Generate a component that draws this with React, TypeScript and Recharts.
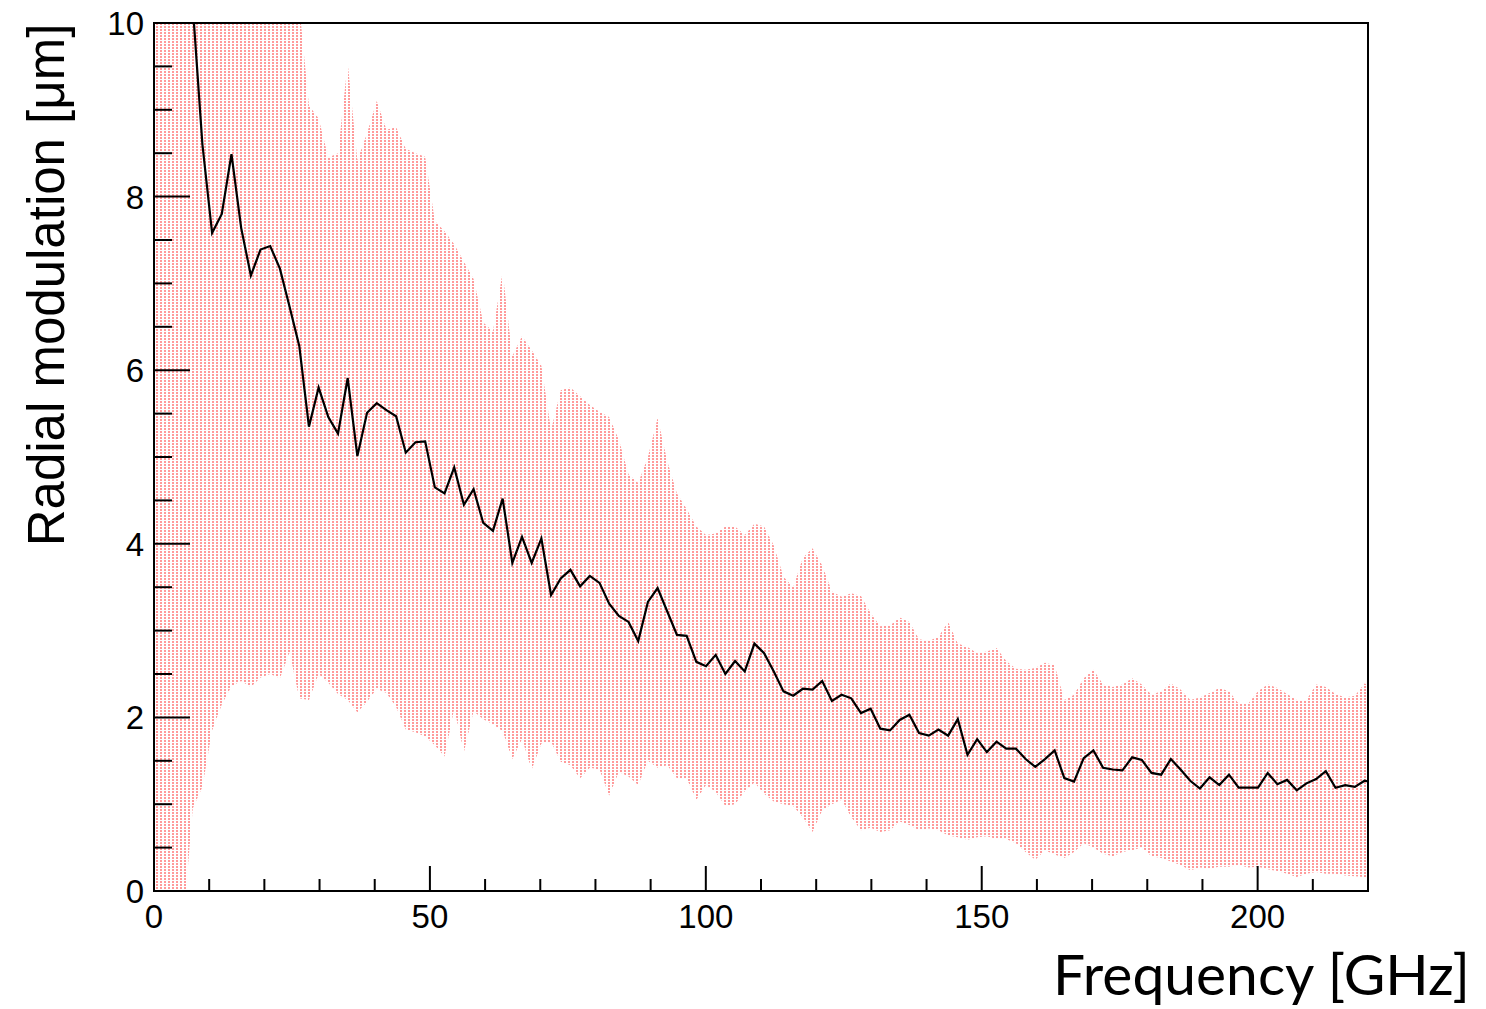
import React from "react";
import {
  ComposedChart,
  Area,
  Line,
  XAxis,
  YAxis,
  ReferenceArea,
} from "recharts";

// Bin spacing of the spectrum (GHz)
const BIN_GHZ = 1.755;

// Mean radial modulation per frequency bin (µm); first bins are off-scale (>10)
const meanValues: number[] = [
  14.5, 13.5, 12.5, 11.3, 10.2, 8.6, 7.58, 7.8, 8.49, 7.64,
  7.09, 7.39, 7.43, 7.17, 6.73, 6.28, 5.35, 5.8, 5.46, 5.27,
  5.91, 5.01, 5.51, 5.62, 5.54, 5.47, 5.05, 5.17, 5.18, 4.65,
  4.58, 4.88, 4.45, 4.63, 4.24, 4.15, 4.52, 3.78, 4.08, 3.78,
  4.06, 3.41, 3.6, 3.7, 3.51, 3.63, 3.55, 3.31, 3.17, 3.1,
  2.88, 3.33, 3.49, 3.22, 2.95, 2.94, 2.64, 2.59, 2.72, 2.5,
  2.65, 2.53, 2.85, 2.74, 2.53, 2.3, 2.25, 2.33, 2.32, 2.42,
  2.19, 2.26, 2.22, 2.05, 2.1, 1.87, 1.85, 1.97, 2.03, 1.82,
  1.79, 1.86, 1.79, 1.98, 1.57, 1.75, 1.6, 1.72, 1.64, 1.64,
  1.52, 1.43, 1.52, 1.62, 1.3, 1.26, 1.53, 1.62, 1.42, 1.4,
  1.39, 1.54, 1.51, 1.36, 1.34, 1.52, 1.4, 1.27, 1.18, 1.31,
  1.22, 1.34, 1.19, 1.19, 1.19, 1.36, 1.23, 1.28, 1.16, 1.24,
  1.29, 1.38, 1.19, 1.22, 1.2, 1.27, 1.25,
];

// Upper edge of the spread band (µm); early bins are off-scale (>10)
const upperValues: number[] = [
  10.8, 10.8, 10.8, 10.8, 10.8, 10.8, 10.8, 10.8, 10.8, 10.8,
  10.8, 10.8, 10.8, 10.8, 10.8, 10.2, 9.05, 8.9, 8.45, 8.5,
  9.54, 8.42, 8.73, 9.1, 8.77, 8.8, 8.55, 8.5, 8.46, 7.72,
  7.6, 7.45, 7.25, 7.05, 6.55, 6.45, 7.13, 6.16, 6.39, 6.23,
  6.05, 5.31, 5.77, 5.8, 5.7, 5.6, 5.52, 5.46, 5.2, 4.8,
  4.7, 5.0, 5.45, 4.95, 4.58, 4.4, 4.2, 4.1, 4.12, 4.2,
  4.2, 4.1, 4.23, 4.2, 3.98, 3.62, 3.5, 3.84, 3.95, 3.75,
  3.45, 3.39, 3.43, 3.4, 3.2, 3.05, 3.06, 3.15, 3.1, 2.9,
  2.88, 2.93, 3.1, 2.85, 2.81, 2.74, 2.76, 2.8, 2.65, 2.56,
  2.55, 2.57, 2.63, 2.6, 2.2, 2.26, 2.45, 2.55, 2.38, 2.35,
  2.38, 2.45, 2.38, 2.26, 2.3, 2.39, 2.32, 2.2, 2.23, 2.28,
  2.34, 2.3, 2.16, 2.16, 2.3, 2.38, 2.34, 2.27, 2.2, 2.2,
  2.38, 2.35, 2.27, 2.23, 2.25, 2.39, 2.35,
];

// Lower edge of the spread band (µm); first bins are below 0
const lowerValues: number[] = [
  -0.8, -0.7, -0.6, -0.4, 0.95, 1.2, 1.85, 2.15, 2.36, 2.42,
  2.35, 2.46, 2.5, 2.45, 2.75, 2.22, 2.2, 2.5, 2.4, 2.27,
  2.2, 2.06, 2.18, 2.33, 2.28, 2.12, 1.86, 1.83, 1.78, 1.68,
  1.55, 2.1, 1.6, 2.07, 1.98, 1.92, 1.84, 1.52, 1.75, 1.4,
  1.7, 1.72, 1.49, 1.45, 1.3, 1.42, 1.4, 1.1, 1.37, 1.32,
  1.22, 1.5, 1.42, 1.45, 1.3, 1.3, 1.05, 1.22, 1.14, 0.98,
  1.0, 1.15, 1.25, 1.12, 1.03, 1.0, 0.98, 0.85, 0.68, 0.93,
  1.0, 1.05, 0.85, 0.7, 0.73, 0.68, 0.7, 0.8, 0.76, 0.7,
  0.72, 0.7, 0.64, 0.62, 0.59, 0.62, 0.63, 0.6, 0.6, 0.55,
  0.45, 0.36, 0.47, 0.42, 0.38, 0.45, 0.55, 0.5, 0.43, 0.4,
  0.45, 0.47, 0.5, 0.4, 0.38, 0.34, 0.3, 0.24, 0.27, 0.26,
  0.28, 0.28, 0.3, 0.27, 0.28, 0.25, 0.23, 0.2, 0.16, 0.2,
  0.22, 0.2, 0.2, 0.18, 0.17, 0.16, 0.15,
];

const xTicks: number[] = [
  0, 10, 20, 30, 40, 50, 60, 70, 80, 90, 100, 110, 120, 130, 140, 150,
  160, 170, 180, 190, 200, 210, 220,
];
const xLabelTicks: number[] = [0, 50, 100, 150, 200];
const yTicks: number[] = [
  0, 0.5, 1, 1.5, 2, 2.5, 3, 3.5, 4, 4.5, 5, 5.5, 6, 6.5, 7, 7.5, 8, 8.5,
  9, 9.5, 10,
];
const yLabelTicks: number[] = [0, 2, 4, 6, 8, 10];

const X_TITLE = "Frequency [GHz]";
const Y_TITLE = "Radial modulation [μm]";

const data = meanValues.map((m, i) => ({
  freq: +(BIN_GHZ * i).toFixed(3),
  mean: m,
  band: [lowerValues[i], upperValues[i]],
}));

const TICK_FONT = "'Liberation Sans', Arial, Helvetica, sans-serif";

const XTick = (props: any) => {
  const { x, y, payload } = props;
  const v = payload.value;
  const major = xLabelTicks.includes(v);
  const len = major ? 25 : 12;
  return (
    <g>
      <line x1={x} y1={y} x2={x} y2={y - len} stroke="#000" strokeWidth={2} />
      {major && (
        <text
          x={x}
          y={y + 37}
          textAnchor="middle"
          fontSize={33}
          fontFamily={TICK_FONT}
          fill="#000"
        >
          {v}
        </text>
      )}
    </g>
  );
};

const YTick = (props: any) => {
  const { x, y, payload } = props;
  const v = payload.value;
  const major = yLabelTicks.includes(v);
  const len = major ? 36 : 18;
  return (
    <g>
      <line x1={x} y1={y} x2={x + len} y2={y} stroke="#000" strokeWidth={2} />
      {major && (
        <text
          x={x - 10}
          y={y + 12}
          textAnchor="end"
          fontSize={33}
          fontFamily={TICK_FONT}
          fill="#000"
        >
          {v}
        </text>
      )}
    </g>
  );
};

const XTitle = () => (
  <text
    x={1045}
    y={987}
    fontSize={56}
    fontFamily="Lato, 'Open Sans', sans-serif"
    textLength={417}
    lengthAdjust="spacingAndGlyphs"
    fill="#000"
  >
    {X_TITLE}
  </text>
);

const YTitle = () => (
  <text
    x={56}
    y={277}
    transform="rotate(-90 56 277)"
    textAnchor="middle"
    fontSize={51}
    fontFamily={TICK_FONT}
    fill="#000"
  >
    {Y_TITLE}
  </text>
);

export default function App() {
  return (
    <div style={{ width: 1478, height: 1001, background: "#fff" }}>
      <ComposedChart
        width={1478}
        height={1001}
        data={data}
        margin={{ top: 15, right: 118, bottom: 0, left: 0 }}
      >
        <defs>
          <pattern
            id="redDots"
            width={4}
            height={3}
            patternUnits="userSpaceOnUse"
          >
            <rect x={0} y={0} width={2} height={2} fill="#ff2020" fillOpacity={0.45} />
          </pattern>
        </defs>
        <XAxis
          dataKey="freq"
          type="number"
          domain={[0, 220]}
          allowDataOverflow
          ticks={xTicks}
          interval={0}
          tick={<XTick />}
          tickLine={false}
          tickSize={0}
          tickMargin={0}
          axisLine={false}
          height={118}
          label={<XTitle />}
        />
        <YAxis
          type="number"
          domain={[0, 10]}
          allowDataOverflow
          ticks={yTicks}
          interval={0}
          tick={<YTick />}
          tickLine={false}
          tickSize={0}
          tickMargin={0}
          axisLine={false}
          width={146}
          label={<YTitle />}
        />
        <Area
          dataKey="band"
          type="linear"
          stroke="none"
          fill="url(#redDots)"
          fillOpacity={1}
          isAnimationActive={false}
          dot={false}
          activeDot={false}
        />
        <Line
          dataKey="mean"
          type="linear"
          stroke="#000"
          strokeWidth={2.2}
          dot={false}
          activeDot={false}
          isAnimationActive={false}
        />
        <ReferenceArea
          x1={0}
          x2={220}
          y1={0}
          y2={10}
          fill="none"
          stroke="#000"
          strokeWidth={2}
          ifOverflow="visible"
        />
      </ComposedChart>
    </div>
  );
}
